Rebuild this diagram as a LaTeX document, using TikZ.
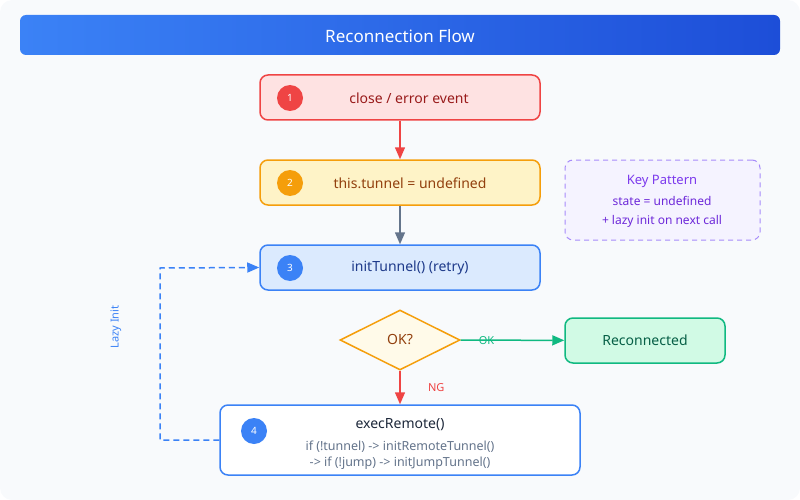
\documentclass[tikz,border=0pt]{standalone}
\usepackage{fontspec}
\setmainfont{Noto Sans}
\usetikzlibrary{arrows.meta}
\usetikzlibrary{shapes.geometric}
\definecolor{bgc}{HTML}{F8FAFC}
\definecolor{redc}{HTML}{EF4444}
\definecolor{redf}{HTML}{FEE2E2}
\definecolor{redt}{HTML}{991B1B}
\definecolor{ambc}{HTML}{F59E0B}
\definecolor{ambf}{HTML}{FEF3C7}
\definecolor{ambt}{HTML}{92400E}
\definecolor{bluc}{HTML}{3B82F6}
\definecolor{blud}{HTML}{1D4ED8}
\definecolor{bluf}{HTML}{DBEAFE}
\definecolor{blut}{HTML}{1E3A8A}
\definecolor{grnc}{HTML}{10B981}
\definecolor{grnf}{HTML}{D1FAE5}
\definecolor{grnt}{HTML}{065F46}
\definecolor{vioc}{HTML}{A78BFA}
\definecolor{viof}{HTML}{F5F3FF}
\definecolor{viot}{HTML}{7C3AED}
\definecolor{viod}{HTML}{6D28D9}
\definecolor{slate}{HTML}{64748B}
\definecolor{ink}{HTML}{1E293B}
\tikzstyle{stepbox}=[rectangle, rounded corners=8pt, line width=1.5pt, minimum width=280pt, minimum height=45pt, inner sep=0pt]
\tikzstyle{num}=[circle, inner sep=0pt, minimum size=26pt, text=white, font=\fontsize{10}{12}\selectfont]
\tikzstyle{txt}=[font=\fontsize{14}{17}\selectfont]
\tikzstyle{small}=[font=\fontsize{12}{14}\selectfont]
\tikzstyle{tiny}=[font=\fontsize{11}{13}\selectfont]
\tikzstyle{flow}=[line width=1.5pt, -{Triangle[length=12pt, width=10pt]}]

\begin{document}
\begin{tikzpicture}[x=1pt, y=-1pt]
    \fill[bgc, rounded corners=12pt] (0,0) rectangle (800,500);
    \useasboundingbox (0,0) rectangle (800,500);
    \shade[left color=bluc, right color=blud, rounded corners=6pt] (20,15) rectangle (780,55);
    \node[text=white, font=\fontsize{17}{20}\selectfont] (title) at (400,36) {Reconnection Flow};

    \node[stepbox, draw=redc, fill=redf] (s1) at (400,97.5) {};
    \node[num, fill=redc] (n1) at (290,98) {1};
    \node[txt, text=redt] (t1) at (409,98) {close / error event};

    \node[stepbox, draw=ambc, fill=ambf] (s2) at (400,182.5) {};
    \node[num, fill=ambc] (n2) at (290,183) {2};
    \node[txt, text=ambt] (t2) at (410,183) {this.tunnel = undefined};

    \node[stepbox, draw=bluc, fill=bluf] (s3) at (400,267.5) {};
    \node[num, fill=bluc] (n3) at (290,268) {3};
    \node[txt, text=blut] (t3) at (410,268) {initTunnel() (retry)};

    \node[diamond, aspect=2, draw=ambc, fill=ambf!40!white, line width=1.5pt, minimum width=120pt, minimum height=60pt, inner sep=0pt, txt, text=ambt] (ok) at (400,340) {OK?};

    \node[stepbox, minimum width=160pt, draw=grnc, fill=grnf, txt, text=grnt] (done) at (645,340.5) {Reconnected};

    \node[stepbox, minimum width=360pt, minimum height=70pt, draw=bluc, fill=white] (s4) at (400,440) {};
    \node[num, fill=bluc] (n4) at (254,431) {4};
    \node[txt, text=ink] (t4) at (400,425) {execRemote()};
    \node[font=\fontsize{12.5}{15}\selectfont, text=slate] (l4a) at (400,447) {if (!tunnel) -> initRemoteTunnel()};
    \node[font=\fontsize{12.5}{15}\selectfont, text=slate] (l4b) at (400,463) {-> if (!jump) -> initJumpTunnel()};

    \node[stepbox, minimum width=195pt, minimum height=80pt, draw=vioc, fill=viof, dash pattern=on 5pt off 4pt, line width=1pt] (key) at (662.5,200) {};
    \node[font=\fontsize{13}{16}\selectfont, text=viot] (k1) at (662,181) {Key Pattern};
    \node[small, text=viod] (k2) at (662,201) {state = undefined};
    \node[small, text=viod] (k3) at (662,221) {+ lazy init on next call};

    \draw[flow, redc] (s1) -- (s2);
    \draw[flow, slate] (s2) -- (s3);
    \draw[flow, grnc] (ok) -- (done) node[pos=.25, tiny, text=grnc] (okl) {OK};
    \draw[flow, redc] (ok) -- (s4) node[pos=.5, right=24pt, tiny, text=redc] (ngl) {NG};
    \coordinate (c1) at (160,440);
    \coordinate (c2) at (160,268);
    \draw[flow, bluc, dash pattern=on 6pt off 4pt] (s4.west) -- (c1) -- (c2) -- (s3.west);
    \node[tiny, text=bluc, rotate=90] (lazy) at (116,327) {Lazy Init};
  \end{tikzpicture}
\end{document}
